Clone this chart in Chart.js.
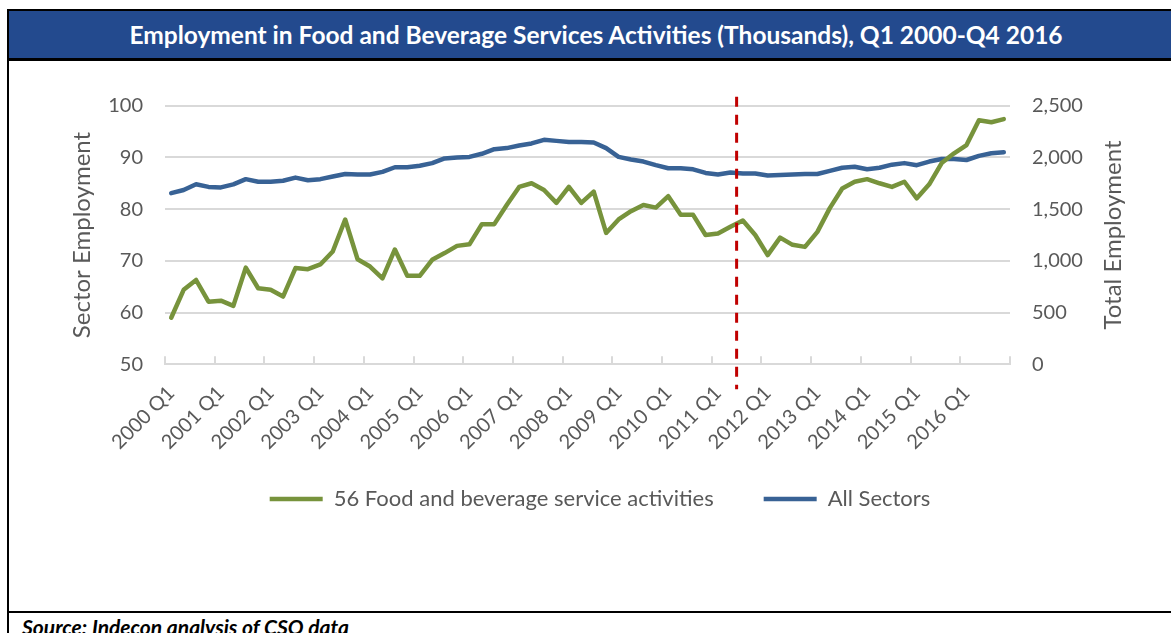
<!DOCTYPE html>
<html>
<head>
<meta charset="utf-8">
<title>Employment in Food and Beverage Services Activities</title>
<script src="https://cdn.jsdelivr.net/npm/chart.js@4.4.1/dist/chart.umd.min.js"></script>
<style>
  html, body { margin: 0; padding: 0; background: #fff; }
  body { width: 1171px; height: 633px; overflow: hidden; position: relative; font-family: Lato, "Open Sans", sans-serif; }
  .frame { position: absolute; left: 7px; top: 9px; width: 1300px; height: 700px; border-left: 2px solid #000; border-top: 2px solid #000; }
  .header {
    position: absolute; left: 9px; top: 11px; width: 1162px; height: 50px;
    background: #234a8e; border-bottom: 3px solid #000;
    color: #fff; font-weight: 700; font-size: 24.5px;
    display: flex; align-items: center; justify-content: center;
    padding-left: 12px; box-sizing: border-box;
  }
  .chart-box { position: absolute; left: 9px; top: 61px; width: 1182px; height: 550px; }
  .source-rule { position: absolute; left: 9px; top: 611px; width: 1162px; height: 2px; background: #000; }
  .source { position: absolute; left: 22px; top: 616px; line-height: 1; font-weight: 700; font-style: italic; font-size: 21px; color: #000; }
</style>
</head>
<body>
<div class="frame"></div>
<div class="header">Employment in Food and Beverage Services Activities (Thousands), Q1 2000-Q4 2016</div>
<div class="chart-box"><canvas id="employmentChart" width="1182" height="550"></canvas></div>
<div class="source-rule"></div>
<div class="source">Source: Indecon analysis of CSO data</div>

<script>
// quarters 2000 Q1 .. 2016 Q4
const years = [2000, 2001, 2002, 2003, 2004, 2005, 2006, 2007, 2008, 2009, 2010, 2011, 2012, 2013, 2014, 2015, 2016];
const quarters = [];
years.forEach((y) => ['Q1', 'Q2', 'Q3', 'Q4'].forEach((q) => quarters.push(`${y} ${q}`)));

// NACE 56, thousands (left axis)
const foodBeverage = [
  59.0, 64.4, 66.3, 62.1, 62.3, 61.3, 68.7, 64.7, 64.4, 63.1,
  68.6, 68.4, 69.3, 71.8, 78.0, 70.3, 68.9, 66.6, 72.2, 67.1,
  67.1, 70.2, 71.5, 72.9, 73.2, 77.1, 77.1, 80.8, 84.3, 85.0,
  83.7, 81.2, 84.3, 81.2, 83.4, 75.4, 78.0, 79.6, 80.8, 80.3,
  82.5, 78.9, 78.9, 75.0, 75.3, 76.6, 77.8, 75.0, 71.1, 74.5,
  73.1, 72.7, 75.6, 80.2, 84.0, 85.3, 85.8, 85.0, 84.3, 85.3,
  82.1, 84.8, 88.9, 90.8, 92.4, 97.2, 96.8, 97.4
];

// all sectors, thousands (right axis)
const allSectors = [
  1655, 1685, 1740, 1715, 1710, 1740, 1790, 1765, 1765, 1775,
  1805, 1780, 1790, 1815, 1840, 1835, 1835, 1860, 1905, 1905,
  1920, 1945, 1990, 2000, 2005, 2035, 2080, 2090, 2115, 2135,
  2170, 2160, 2150, 2150, 2145, 2090, 2005, 1980, 1960, 1925,
  1895, 1895, 1885, 1850, 1835, 1855, 1845, 1845, 1825, 1830,
  1835, 1840, 1840, 1870, 1900, 1910, 1885, 1900, 1930, 1945,
  1925, 1960, 1985, 1985, 1975, 2015, 2040, 2050
];

const sectorAxis = { min: 50, max: 100, step: 10 };
const totalAxis = { min: 0, max: 2500, step: 500 };
const markerAfter = '2011 Q2'; // dashed divider sits after this quarter

const GREEN = '#77933c';
const BLUE = '#386295';
const GREY_TEXT = '#595959';
const GRID = '#d9d9d9';
const FONT = 'Lato, "Open Sans", sans-serif';

Chart.defaults.font.family = FONT;
Chart.defaults.color = GREY_TEXT;

const dividerLine = {
  id: 'dividerLine',
  afterDatasetsDraw(chart) {
    const { ctx, chartArea, scales } = chart;
    const x = scales.x.getPixelForValue(quarters.indexOf(markerAfter) + 0.5);
    ctx.save();
    ctx.strokeStyle = '#c00000';
    ctx.lineWidth = 3;
    ctx.setLineDash([10, 8]);
    ctx.beginPath();
    ctx.moveTo(x, chartArea.top - 9);
    ctx.lineTo(x, chartArea.bottom + 25);
    ctx.stroke();
    ctx.restore();
  }
};

// Excel-style secondary title reads bottom-to-top
const rightAxisTitle = {
  id: 'rightAxisTitle',
  afterDraw(chart) {
    const s = chart.scales.y1;
    const { ctx } = chart;
    ctx.save();
    ctx.translate(s.left + 103, (s.top + s.bottom) / 2);
    ctx.rotate(-Math.PI / 2);
    ctx.font = `24px ${FONT}`;
    ctx.fillStyle = GREY_TEXT;
    ctx.textAlign = 'center';
    ctx.textBaseline = 'middle';
    ctx.fillText('Total Employment', 0, 0);
    ctx.restore();
  }
};

// x axis box has to be tall enough for the slanted labels (they are clipped to it),
// so pull the legend back up closer to them
const legendLift = {
  id: 'legendLift',
  afterLayout(chart) {
    chart.legend.top -= 13.3;
    chart.legend.bottom -= 13.3;
  }
};

new Chart(document.getElementById('employmentChart'), {
  type: 'line',
  data: {
    labels: quarters,
    datasets: [
      {
        label: '56 Food and beverage service activities',
        data: foodBeverage,
        yAxisID: 'y',
        borderColor: GREEN,
        backgroundColor: GREEN,
        borderWidth: 4.5,
        borderCapStyle: 'round',
        borderJoinStyle: 'round',
        pointRadius: 0,
        tension: 0
      },
      {
        label: 'All Sectors',
        data: allSectors,
        yAxisID: 'y1',
        borderColor: BLUE,
        backgroundColor: BLUE,
        borderWidth: 4.5,
        borderCapStyle: 'round',
        borderJoinStyle: 'round',
        pointRadius: 0,
        tension: 0
      }
    ]
  },
  options: {
    responsive: false,
    animation: false,
    locale: 'en-US',
    layout: { padding: { top: 44.7, bottom: 77.7, left: 0, right: 0 } },
    plugins: {
      tooltip: { enabled: false },
      legend: {
        position: 'bottom',
        labels: {
          usePointStyle: true,
          pointStyle: 'line',
          pointStyleWidth: 53,
          padding: 50,
          color: GREY_TEXT,
          font: { size: 22 }
        }
      }
    },
    scales: {
      x: {
        offset: true,
        grid: {
          offset: true,
          drawOnChartArea: false,
          drawTicks: true,
          tickLength: -8,
          lineWidth: 2,
          color: (c) => (c.index === undefined || c.index % 4 === 0 ? GRID : 'rgba(0,0,0,0)')
        },
        border: { display: true, color: GRID, width: 2 },
        ticks: {
          autoSkip: false,
          maxRotation: 45,
          minRotation: 45,
          padding: 25,
          color: GREY_TEXT,
          font: { size: 20 },
          callback: (v, i) => (i % 4 === 0 ? quarters[i] : '')
        },
        afterFit: (s) => { s.height = 87; }
      },
      y: {
        position: 'left',
        min: sectorAxis.min,
        max: sectorAxis.max,
        ticks: { stepSize: sectorAxis.step, padding: 22, color: GREY_TEXT, font: { size: 20 } },
        grid: { color: GRID, lineWidth: 2, drawTicks: false },
        border: { display: false },
        title: {
          display: true,
          text: 'Sector Employment',
          color: GREY_TEXT,
          font: { size: 24 },
          padding: { top: 58.5, bottom: 0 }
        },
        afterFit: (s) => { s.width = 156; }
      },
      y1: {
        position: 'right',
        min: totalAxis.min,
        max: totalAxis.max,
        ticks: { stepSize: totalAxis.step, padding: 22, color: GREY_TEXT, font: { size: 20 } },
        grid: { drawOnChartArea: false, drawTicks: false },
        border: { display: false },
        afterFit: (s) => { s.width = 181; }
      }
    }
  },
  plugins: [dividerLine, rightAxisTitle, legendLift]
});
</script>
</body>
</html>
